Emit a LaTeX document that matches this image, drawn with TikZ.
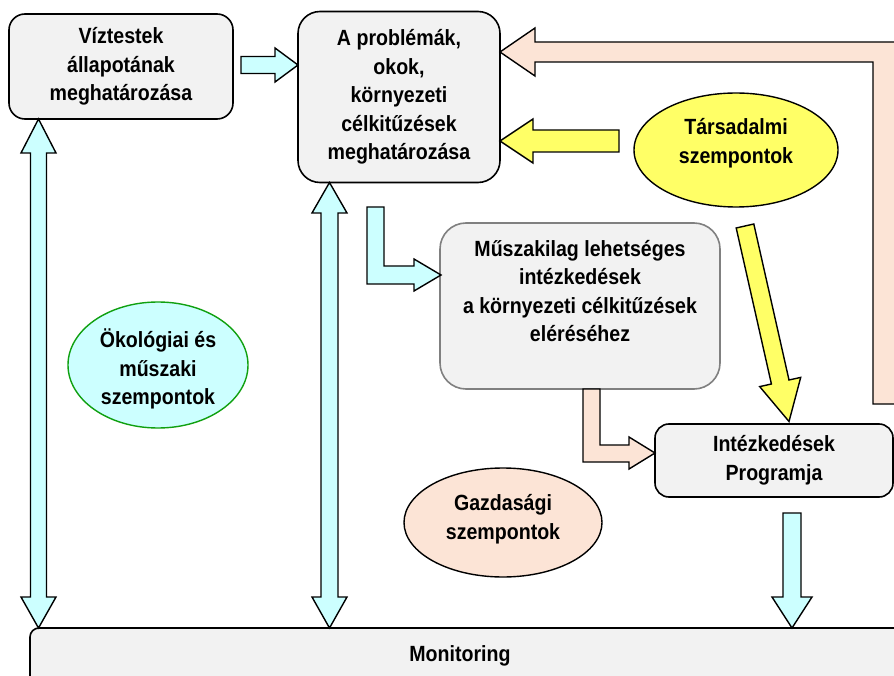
\documentclass[tikz,border=0pt]{standalone}
\usepackage{fontspec}
\setmainfont{Liberation Sans}[FakeStretch=0.89]
\usetikzlibrary{shapes.geometric}
\definecolor{cyanf}{HTML}{CCFFFF}
\definecolor{yelf}{HTML}{FFFF66}
\definecolor{peachf}{HTML}{FCE4D6}
\definecolor{boxf}{HTML}{F2F2F2}
\definecolor{ecogreen}{HTML}{10A010}
\definecolor{greyline}{HTML}{808080}
\begin{document}
\begin{tikzpicture}[x=1pt,y=-1pt,
  lbl/.style={align=center, font=\fontsize{22}{28.5}\selectfont\bfseries, inner sep=0pt},
  box/.style={draw=black, line width=1.6pt, fill=boxf, rounded corners=16pt, lbl},
  oval/.style={ellipse, draw=black, line width=1.4pt, lbl},
  blk/.style={draw=black, line width=1.4pt, line join=miter}]
\useasboundingbox (0,0) rectangle (894,676);
\clip (0,0) rectangle (894,676);
\fill[white] (0,0) rectangle (894,676);

% boxes
\node[box, minimum width=224pt, minimum height=105pt] (A) at (121,66.5)
  {Víztestek\\állapotának\\meghatározása};
\node[box, rounded corners=22pt, minimum width=202pt, minimum height=171pt] (B) at (399,97)
  {A problémák,\\okok,\\környezeti\\célkitűzések\\meghatározása};
\node[box, draw=greyline, rounded corners=26pt, minimum width=280pt, minimum height=166pt] (C) at (580,306) {};
\node[lbl] (Ct) at (580,291) {Műszakilag lehetséges\\intézkedések\\a környezeti célkitűzések\\eléréséhez};
\node[box, rounded corners=14pt, minimum width=238pt, minimum height=73pt] (D) at (774,460.5)
  {Intézkedések\\Programja};
\node[box, rounded corners=9pt, minimum width=900pt, minimum height=80pt] (M) at (480,668) {};
\node[lbl] (Mt) at (460,656) {Monitoring};

% ellipses
\node[oval, draw=ecogreen, fill=cyanf, minimum width=180pt, minimum height=126pt] (E1) at (158,365) {};
\node[lbl] (E1t) at (158,369) {Ökológiai és\\műszaki\\szempontok};
\node[oval, fill=yelf, minimum width=204pt, minimum height=114pt] (E2) at (736,150) {};
\node[lbl] (E2t) at (736,143) {Társadalmi\\szempontok};
\node[oval, fill=peachf, minimum width=198pt, minimum height=109pt] (E3) at (503,522.5) {};
\node[lbl] (E3t) at (503,519) {Gazdasági\\szempontok};

% block arrows
% A -> B
\draw[blk, fill=cyanf] (241,56.5) -- (275,56.5) -- (275,48) -- (298,65) -- (275,82) -- (275,73.5) -- (241,73.5) -- cycle;
% left double arrow A <-> Monitoring
\draw[blk, fill=cyanf] (38.5,119) -- (56,153) -- (46.5,153) -- (46.5,597) -- (56,597) -- (38.5,628)
  -- (21,597) -- (30.5,597) -- (30.5,153) -- (21,153) -- cycle;
% middle double arrow B <-> Monitoring
\draw[blk, fill=cyanf] (329.5,182.5) -- (347,213) -- (338,213) -- (338,597) -- (347,597) -- (329.5,628)
  -- (312,597) -- (321,597) -- (321,213) -- (312,213) -- cycle;
% B -> C (L shaped)
\draw[blk, fill=cyanf] (367,207) -- (384,207) -- (384,266) -- (414,266) -- (414,259) -- (441,275)
  -- (414,291) -- (414,284) -- (367,284) -- cycle;
% Tarsadalmi -> B
\draw[blk, fill=yelf] (619,130) -- (533,130) -- (533,119) -- (500,141) -- (533,163) -- (533,152) -- (619,152) -- cycle;
% Tarsadalmi -> D (diagonal)
\draw[blk, fill=yelf] (736.2,228) -- (771.4,384) -- (759.7,386.6) -- (789,421.5) -- (800.7,377.4) -- (789,380) -- (753.8,224) -- cycle;
% big peach return arrow D -> B
\draw[blk, fill=peachf] (873,404) -- (873,62) -- (535,62) -- (535,76) -- (500,52) -- (535,28) -- (535,42)
  -- (898,42) -- (898,404) -- cycle;
% C -> D (L shaped)
\draw[blk, fill=peachf] (583,389) -- (600,389) -- (600,445) -- (629,445) -- (629,437) -- (655,453)
  -- (629,469) -- (629,462) -- (583,462) -- cycle;
% D -> Monitoring
\draw[blk, fill=cyanf] (783,513) -- (801,513) -- (801,597) -- (812,597) -- (792,628) -- (772,597) -- (783,597) -- cycle;
\end{tikzpicture}
\end{document}
